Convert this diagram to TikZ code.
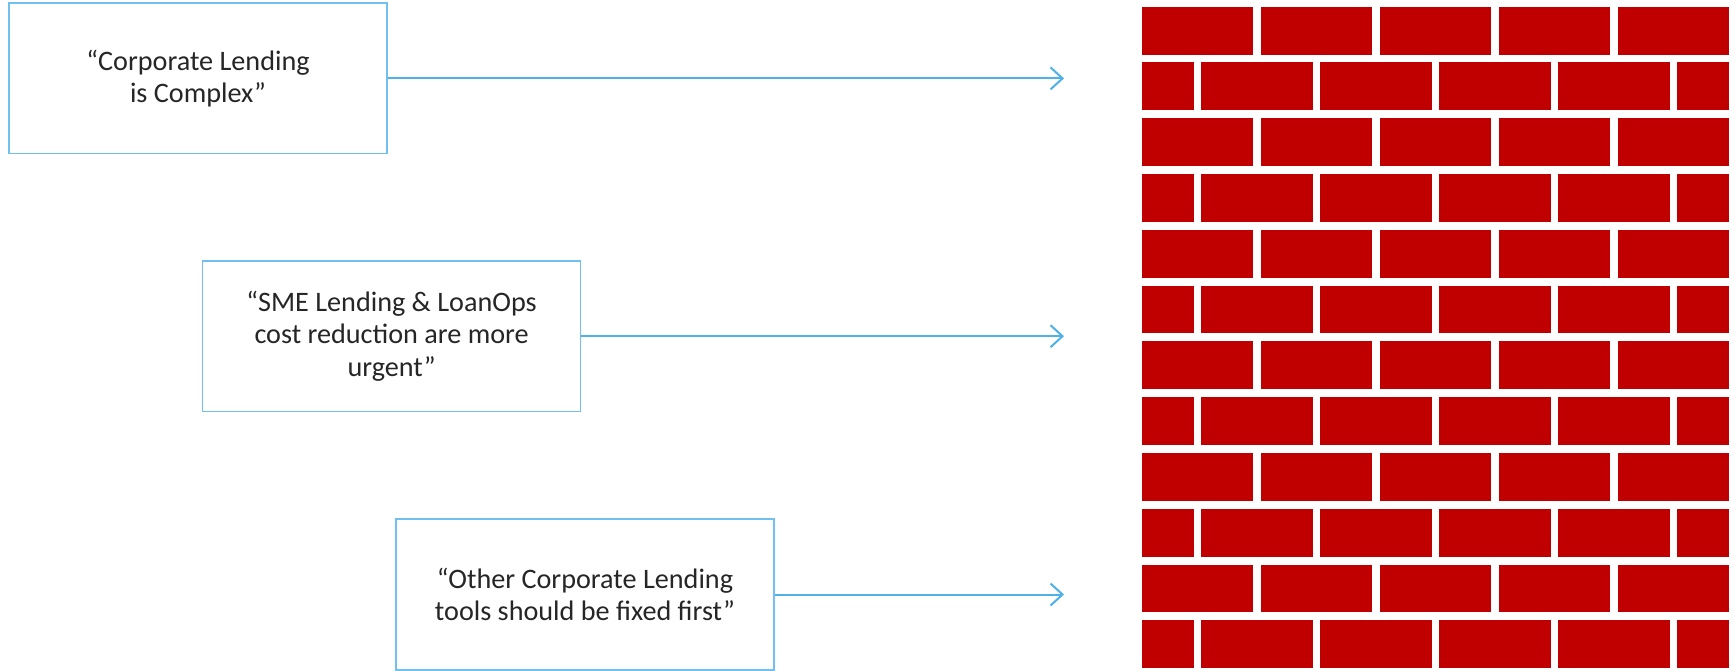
\documentclass[tikz,border=0pt]{standalone}
\usepackage{fontspec}
\setmainfont{Carlito}
\usetikzlibrary{arrows.meta}
\definecolor{boxblue}{RGB}{112,192,240}
\definecolor{arrowblue}{RGB}{78,178,232}
\definecolor{brickred}{RGB}{192,0,0}
\definecolor{textgray}{RGB}{38,38,38}
\tikzset{
  tbox/.style={draw=boxblue, line width=1.6pt, minimum width=378pt, minimum height=150.5pt,
    align=center, text=textgray, inner sep=0pt,
    font=\fontsize{28.2}{32.5}\selectfont},
  conn/.style={draw=arrowblue, line width=2pt, -{Straight Barb[length=12pt,width=22pt,line width=2pt]}},
  brick/.style={fill=brickred}
}
\begin{document}
\begin{tikzpicture}[x=1pt,y=-1pt]
\useasboundingbox (0,0) rectangle (1735,670);
\fill[white] (0,0) rectangle (1735,670);
% text boxes
\node[tbox] (b1) at (198,78.4) {“Corporate Lending\\is Complex”};
\node[tbox] (b2) at (391.6,336.2) {“SME Lending \& LoanOps\\cost reduction are more\\urgent”};
\node[tbox] (b3) at (585,594.5) {“Other Corporate Lending\\tools should be fixed first”};
% arrow tips
\coordinate (t1) at (1064,78.4);
\coordinate (t2) at (1064,336.2);
\coordinate (t3) at (1064,594.5);
\draw[conn] (b1.east) -- (t1);
\draw[conn] (b2.east) -- (t2);
\draw[conn] (b3.east) -- (t3);
% brick wall
\def\xa{1141.7}
\def\xb{1729.3}
\def\bw{111.36}
\def\bp{119.06}
\def\rh{47.8}
\def\rp{55.78}
\foreach \r in {0,2,...,10}{
  \foreach \k in {0,...,4}{
    \fill[brick] ({\xa+\k*\bp},{6.7+\r*\rp}) rectangle ++(\bw,\rh);
  }
}
\foreach \r in {1,3,...,11}{
  \fill[brick] (\xa,{6.7+\r*\rp}) rectangle ++(51.8,\rh);
  \foreach \k in {0,...,3}{
    \fill[brick] ({\xa+59.53+\k*\bp},{6.7+\r*\rp}) rectangle ++(\bw,\rh);
  }
  \fill[brick] ({\xa+59.53+4*\bp},{6.7+\r*\rp}) rectangle ({\xb},{6.7+\r*\rp+\rh});
}
\end{tikzpicture}
\end{document}
